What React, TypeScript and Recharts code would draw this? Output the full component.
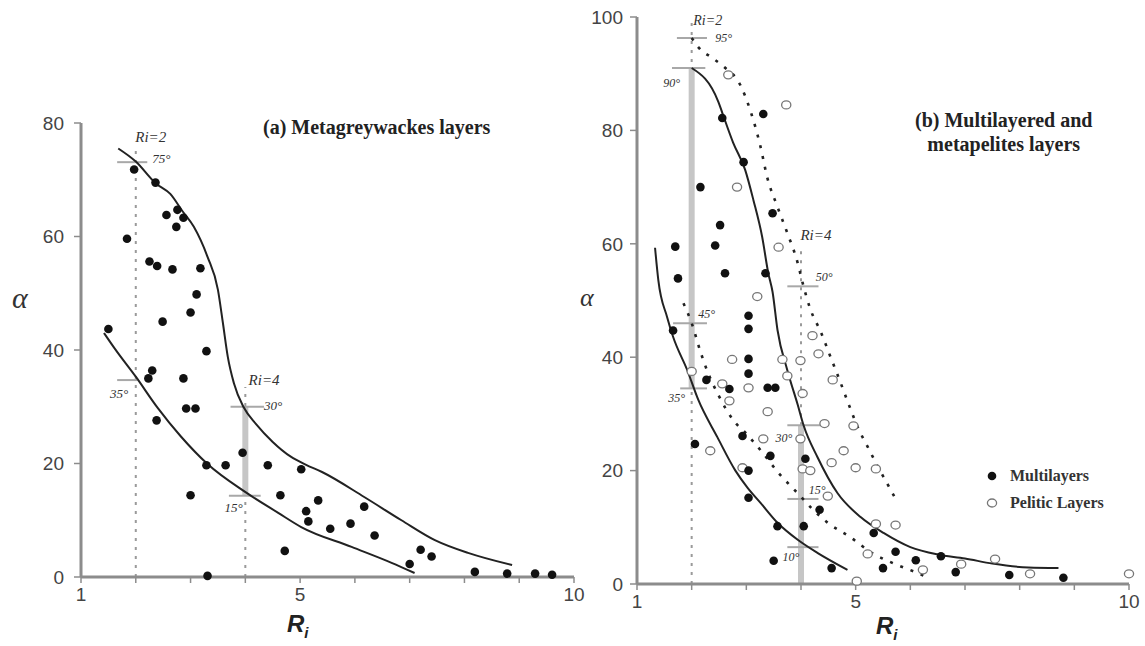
import React from 'react';
import { ComposedChart, Scatter, Line, XAxis, YAxis, ReferenceLine, Legend } from 'recharts';

type Pt = [number, number];

// ---- panel (a) metagreywackes: measured points [Ri, alpha]
const A_POINTS: Pt[] = [
  [1.97, 71.8], [2.36, 69.5], [1.84, 59.6], [2.56, 63.8], [2.76, 64.7], [2.74, 61.7], [2.87, 63.3],
  [2.25, 55.6], [2.39, 54.8], [2.67, 54.2], [3.18, 54.4], [3.11, 49.8], [3.0, 46.6], [2.49, 45.0],
  [1.5, 43.7], [3.29, 39.8], [2.3, 36.4], [2.23, 35.0], [2.87, 35.0], [2.92, 29.7], [3.09, 29.7],
  [2.38, 27.6], [3.95, 21.9], [3.29, 19.7], [3.64, 19.7], [4.41, 19.7], [3.0, 14.4], [4.64, 14.4],
  [4.72, 4.6], [3.31, 0.2], [5.02, 19.0], [5.33, 13.5], [5.11, 11.6], [5.15, 9.8], [5.55, 8.5],
  [5.92, 9.4], [6.17, 12.4], [6.36, 7.3], [7.0, 2.3], [7.2, 4.8], [7.4, 3.6], [8.19, 0.9],
  [8.78, 0.6], [9.29, 0.6], [9.6, 0.4],
];
// envelope curves
const A_UPPER: Pt[] = [
  [1.68, 75.5], [2, 73.2], [2.36, 69.4], [2.63, 67.5], [2.85, 64.5], [3.06, 61.7], [3.31, 56.4],
  [3.5, 50.6], [3.59, 44.8], [3.68, 38.8], [3.79, 34.2], [3.97, 29.9], [4.2, 26.9], [4.5, 23.8],
  [4.83, 21.2], [5.1, 19.8], [5.4, 18.5], [6.17, 14.1], [6.85, 10], [7.46, 6.5], [8.08, 4.2],
  [8.87, 2.1],
];
const A_LOWER: Pt[] = [
  [1.42, 43], [1.62, 40.2], [2, 35.3], [2.4, 29.8], [2.82, 24.8], [3.31, 19.9], [4.01, 14.9],
  [4.6, 11.3], [5.02, 8.8], [5.94, 5.3], [6.67, 2.5], [7.09, 0.7],
];

// ---- panel (b) multilayered and metapelites
const B_MULTI: Pt[] = [
  [2.56, 82.2], [3.31, 82.9], [2.95, 74.4], [2.16, 70], [2.52, 63.3], [3.48, 65.4], [1.7, 59.5],
  [2.43, 59.7], [2.61, 54.8], [3.35, 54.8], [1.75, 53.9], [3.04, 47.3], [3.04, 45], [1.66, 44.7],
  [3.04, 39.7], [3.04, 37.1], [2.27, 36], [2.69, 34.4], [3.39, 34.6], [3.53, 34.6], [2.06, 24.7],
  [2.93, 26.1], [3.44, 22.6], [3.04, 20], [4.08, 22.1], [3.04, 15.2], [3.57, 10.2], [4.05, 10.2],
  [4.34, 13.1], [3.5, 4.1], [4.56, 2.8], [5.33, 9], [5.73, 5.7], [5.5, 2.8], [6.1, 4.2],
  [6.56, 4.9], [6.83, 2.1], [7.81, 1.6], [8.8, 1.1],
];
const B_PELITIC: Pt[] = [
  [2.67, 89.8], [3.73, 84.5], [2.83, 70], [3.59, 59.4], [3.2, 50.7], [2.0, 37.5], [2.74, 39.6],
  [2.56, 35.3], [2.69, 32.3], [3.04, 34.6], [3.39, 30.4], [3.66, 39.6], [3.75, 36.7], [3.99, 39.4],
  [4.03, 33.6], [4.21, 43.8], [4.32, 40.6], [4.58, 36], [3.31, 25.6], [3.99, 25.6], [2.34, 23.5],
  [2.93, 20.5], [4.03, 20.3], [4.17, 20], [4.43, 28.3], [4.78, 23.5], [4.56, 21.4], [5.0, 20.5],
  [4.49, 15.5], [5.22, 5.3], [5.02, 0.5], [4.96, 27.9], [5.37, 20.3], [5.37, 10.6], [5.73, 10.4],
  [6.23, 2.5], [6.93, 3.5], [7.55, 4.4], [8.19, 1.8], [10.0, 1.8],
];
const B_SOLID_UPPER: Pt[] = [
  [2, 91], [2.49, 85], [2.56, 83.1], [2.76, 77.8], [2.98, 73], [3.13, 67.7], [3.29, 61.2],
  [3.4, 54.9], [3.48, 51.5], [3.57, 44.8], [3.75, 37.7], [3.94, 31.6], [4.05, 27.9], [4.3, 22.4],
  [4.67, 16], [5.09, 11.8], [5.51, 9], [6.0, 6.5], [6.5, 5.2], [7.0, 4.5], [7.5, 3.6],
  [8.16, 2.9], [8.71, 2.8],
];
const B_SOLID_LOWER: Pt[] = [
  [1.33, 59.3], [1.39, 53.6], [1.55, 47.1], [1.66, 43.6], [1.92, 37.7], [2.12, 32.5], [2.47, 25.9],
  [2.8, 20], [3.02, 17], [3.26, 14.3], [3.57, 10.8], [3.94, 7.8], [4.3, 5.5], [4.85, 2.5],
];
const B_DOT_UPPER: Pt[] = [
  [2, 96.3], [2.12, 94.7], [2.39, 92.7], [2.58, 91.3], [2.89, 88], [3.07, 83.6], [3.26, 77.1],
  [3.38, 71.8], [3.57, 66.5], [3.75, 61.9], [3.94, 56.6], [4.03, 53.1], [4.17, 48.5], [4.36, 44.5],
  [4.55, 39.8], [4.72, 35.6], [4.88, 31.5], [5.04, 27.6], [5.22, 24.2], [5.4, 20.8], [5.59, 17.5],
  [5.77, 14.3],
];
const B_DOT_LOWER: Pt[] = [
  [1.85, 49.5], [2, 46], [2.16, 41], [2.28, 37.7], [2.49, 33.3], [2.76, 28.9], [3.02, 26.3],
  [3.31, 23], [3.57, 19.8], [3.94, 16], [4.2, 13.3], [4.49, 10.8], [4.91, 8.2], [5.28, 5.6],
  [5.7, 3.6], [6.14, 1.9], [6.32, 1.1],
];

const X_TICKS = [1, 2, 3, 4, 5, 6, 7, 8, 9, 10];
const X_LABELED = [1, 5, 10];
const A_Y_TICKS = [0, 20, 40, 60, 80];
const B_Y_TICKS = [0, 20, 40, 60, 80, 100];

// Ri guide lines: x, from, to, kind
type Guide = { x: number; y0: number; y1: number; kind: 'dot' | 'band' };
const A_GUIDES: Guide[] = [
  { x: 2, y0: 0, y1: 75.5, kind: 'dot' },
  { x: 4, y0: 0, y1: 33.5, kind: 'dot' },
  { x: 4, y0: 14.3, y1: 30, kind: 'band' },
];
const B_GUIDES: Guide[] = [
  { x: 2, y0: 0, y1: 99, kind: 'dot' },
  { x: 2, y0: 34.5, y1: 91, kind: 'band' },
  { x: 4, y0: 28, y1: 59, kind: 'dot' },
  { x: 4, y0: 0, y1: 28, kind: 'band' },
];
// short horizontal marks at the Ri intersections
const A_MARKS: Pt[][] = [
  [[1.66, 73.1], [2.21, 73.1]],
  [[1.66, 34.7], [2.03, 34.7]],
  [[3.73, 30], [4.34, 30]],
  [[3.7, 14.3], [4.28, 14.3]],
];
const B_MARKS: Pt[][] = [
  [[1.73, 96.3], [2.28, 96.3]],
  [[1.64, 91], [2.25, 91]],
  [[1.66, 46], [2.28, 46]],
  [[1.79, 34.5], [2.28, 34.5]],
  [[3.75, 52.5], [4.32, 52.5]],
  [[3.75, 28], [4.5, 28]],
  [[3.75, 15], [4.32, 15]],
  [[3.75, 6.5], [4.32, 6.5]],
];

type Note = { x: number; y: number; text: string; anchor: 'start' | 'end'; size: number };
const A_NOTES: Note[] = [
  { x: 1.99, y: 77.5, text: 'Ri=2', anchor: 'start', size: 15 },
  { x: 2.3, y: 73.8, text: '75°', anchor: 'start', size: 13 },
  { x: 1.86, y: 32.4, text: '35°', anchor: 'end', size: 13 },
  { x: 4.06, y: 34.7, text: 'Ri=4', anchor: 'start', size: 15 },
  { x: 4.34, y: 30.3, text: '30°', anchor: 'start', size: 13 },
  { x: 3.95, y: 12.2, text: '15°', anchor: 'end', size: 13 },
];
const B_NOTES: Note[] = [
  { x: 2.03, y: 99.4, text: 'Ri=2', anchor: 'start', size: 14 },
  { x: 2.43, y: 96.3, text: '95°', anchor: 'start', size: 12 },
  { x: 1.79, y: 88.4, text: '90°', anchor: 'end', size: 12 },
  { x: 2.12, y: 47.6, text: '45°', anchor: 'start', size: 12 },
  { x: 1.88, y: 32.8, text: '35°', anchor: 'end', size: 12 },
  { x: 3.99, y: 61.6, text: 'Ri=4', anchor: 'start', size: 15 },
  { x: 4.27, y: 54.1, text: '50°', anchor: 'start', size: 12 },
  { x: 3.84, y: 25.7, text: '30°', anchor: 'end', size: 12 },
  { x: 4.14, y: 16.6, text: '15°', anchor: 'start', size: 12 },
  { x: 3.97, y: 4.8, text: '10°', anchor: 'end', size: 12 },
];

const LEGEND_ITEMS = [
  { name: 'Multilayers', open: false },
  { name: 'Pelitic Layers', open: true },
];

const SERIF = '"Liberation Serif", "Times New Roman", serif';
const SANS = '"Liberation Sans", Arial, sans-serif';
const AXIS_GRAY = '#8c8c8c';

const toXY = (pts: Pt[]) => pts.map(([x, y]) => ({ x, y }));

const FilledDot = (p: any) => <circle cx={p.cx} cy={p.cy} r={4.3} fill="#111" />;
const OpenDot = (p: any) => (
  <ellipse cx={p.cx} cy={p.cy} rx={4.6} ry={4} fill="#fff" stroke="#777" strokeWidth={1.3} />
);

const renderNote = (p: any) => {
  const n: Note = p.payload;
  return (
    <text
      x={p.cx}
      y={p.cy}
      textAnchor={n.anchor}
      dominantBaseline="central"
      fontFamily={SERIF}
      fontStyle="italic"
      fontSize={n.size}
      fill="#333"
    >
      {n.text}
    </text>
  );
};

const renderLegend = () => (
  <div style={{ fontFamily: SERIF, fontWeight: 'bold', fontSize: 16, color: '#333' }}>
    {LEGEND_ITEMS.map((item) => (
      <div key={item.name} style={{ display: 'flex', alignItems: 'center', height: 27 }}>
        <svg width={14} height={14} style={{ marginRight: 11 }}>
          {item.open ? (
            <ellipse cx={7} cy={7} rx={4.6} ry={4} fill="#fff" stroke="#777" strokeWidth={1.3} />
          ) : (
            <circle cx={7} cy={7} r={4.3} fill="#111" />
          )}
        </svg>
        <span>{item.name}</span>
      </div>
    ))}
  </div>
);

type Curve = { data: Pt[]; dotted?: boolean };

interface PanelProps {
  left: number;
  width: number;
  margin: { top: number; right: number; bottom: number; left: number };
  yMax: number;
  yTicks: number[];
  yTickMargin: number;
  curves: Curve[];
  filled: Pt[];
  open?: Pt[];
  guides: Guide[];
  marks: Pt[][];
  notes: Note[];
  legend?: boolean;
}

function Panel(props: PanelProps) {
  const { left, width, margin, yMax, yTicks, yTickMargin, curves, filled, open, guides, marks, notes, legend } = props;
  return (
    <div style={{ position: 'absolute', left, top: 0 }}>
      <ComposedChart width={width} height={646} margin={margin}>
        <XAxis
          type="number"
          dataKey="x"
          domain={[1, 10]}
          ticks={X_TICKS}
          interval={0}
          height={40}
          tickSize={6}
          tickMargin={5}
          tickFormatter={(v: number) => (X_LABELED.includes(v) ? String(v) : '')}
          axisLine={{ stroke: AXIS_GRAY, strokeWidth: 3 }}
          tickLine={{ stroke: AXIS_GRAY, strokeWidth: 1.5 }}
          tick={{ fill: '#444', fontSize: 19, fontFamily: SANS }}
        />
        <YAxis
          type="number"
          dataKey="y"
          domain={[0, yMax]}
          ticks={yTicks}
          interval={0}
          width={50}
          tickSize={7}
          tickMargin={yTickMargin}
          axisLine={{ stroke: AXIS_GRAY, strokeWidth: 3 }}
          tickLine={{ stroke: AXIS_GRAY, strokeWidth: 1.5 }}
          tick={{ fill: '#444', fontSize: 19, fontFamily: SANS }}
        />
        {guides.map((g, i) => (
          <ReferenceLine
            key={`g${i}`}
            segment={[{ x: g.x, y: g.y0 }, { x: g.x, y: g.y1 }]}
            stroke={g.kind === 'band' ? '#c6c6c6' : '#9a9a9a'}
            strokeWidth={g.kind === 'band' ? 6 : 2}
            strokeDasharray={g.kind === 'band' ? undefined : '3 6'}
          />
        ))}
        {marks.map((m, i) => (
          <ReferenceLine
            key={`m${i}`}
            segment={[{ x: m[0][0], y: m[0][1] }, { x: m[1][0], y: m[1][1] }]}
            stroke="#a8a8a8"
            strokeWidth={2}
          />
        ))}
        {curves.map((c, i) => (
          <Line
            key={`c${i}`}
            data={toXY(c.data)}
            dataKey="y"
            type="monotone"
            stroke="#222"
            strokeWidth={c.dotted ? 2.6 : 2}
            strokeDasharray={c.dotted ? '3 8' : undefined}
            dot={false}
            activeDot={false}
            legendType="none"
            isAnimationActive={false}
          />
        ))}
        {open && (
          <Scatter name="Pelitic Layers" data={toXY(open)} shape={OpenDot} isAnimationActive={false} />
        )}
        <Scatter name="Multilayers" data={toXY(filled)} shape={FilledDot} isAnimationActive={false} />
        <Scatter data={notes} shape={renderNote} legendType="none" isAnimationActive={false} />
        {legend && (
          <Legend
            layout="vertical"
            align="center"
            verticalAlign="middle"
            content={renderLegend}
            wrapperStyle={{ left: 405, top: 462, width: 'auto' }}
          />
        )}
      </ComposedChart>
    </div>
  );
}

const textStyle: React.CSSProperties = { position: 'absolute', whiteSpace: 'nowrap', lineHeight: 1 };

function AxisTitle({ x, y }: { x: number; y: number }) {
  return (
    <div style={{ ...textStyle, left: x, top: y, fontFamily: SANS, fontWeight: 'bold', fontStyle: 'italic', fontSize: 24, color: '#222' }}>
      R<span style={{ fontSize: 15, position: 'relative', top: 6 }}>i</span>
    </div>
  );
}

export default function App() {
  return (
    <div style={{ position: 'absolute', left: 0, top: 0, width: 1145, height: 646, background: '#fff', overflow: 'hidden' }}>
      <Panel
        left={0}
        width={600}
        margin={{ top: 123, right: 26, bottom: 29, left: 31 }}
        yMax={80}
        yTicks={A_Y_TICKS}
        yTickMargin={10}
        curves={[{ data: A_UPPER }, { data: A_LOWER }]}
        filled={A_POINTS}
        guides={A_GUIDES}
        marks={A_MARKS}
        notes={A_NOTES}
      />
      <Panel
        left={580}
        width={565}
        margin={{ top: 17, right: 16, bottom: 22, left: 7 }}
        yMax={100}
        yTicks={B_Y_TICKS}
        yTickMargin={7}
        curves={[
          { data: B_SOLID_UPPER },
          { data: B_SOLID_LOWER },
          { data: B_DOT_UPPER, dotted: true },
          { data: B_DOT_LOWER, dotted: true },
        ]}
        filled={B_MULTI}
        open={B_PELITIC}
        guides={B_GUIDES}
        marks={B_MARKS}
        notes={B_NOTES}
        legend
      />
      <div style={{ ...textStyle, left: 263, top: 117, fontFamily: SERIF, fontWeight: 'bold', fontSize: 20, color: '#222' }}>
        (a) Metagreywackes layers
      </div>
      <div style={{ ...textStyle, left: 915, top: 108, fontFamily: SERIF, fontWeight: 'bold', fontSize: 20, color: '#222', textAlign: 'center', lineHeight: '24px' }}>
        (b) Multilayered and
        <br />
        metapelites layers
      </div>
      <div style={{ ...textStyle, left: 12, top: 283, fontFamily: SERIF, fontStyle: 'italic', fontSize: 30, color: '#333' }}>α</div>
      <div style={{ ...textStyle, left: 580, top: 285, fontFamily: SERIF, fontStyle: 'italic', fontSize: 26, color: '#333' }}>α</div>
      <AxisTitle x={287} y={612} />
      <AxisTitle x={876} y={614} />
    </div>
  );
}
